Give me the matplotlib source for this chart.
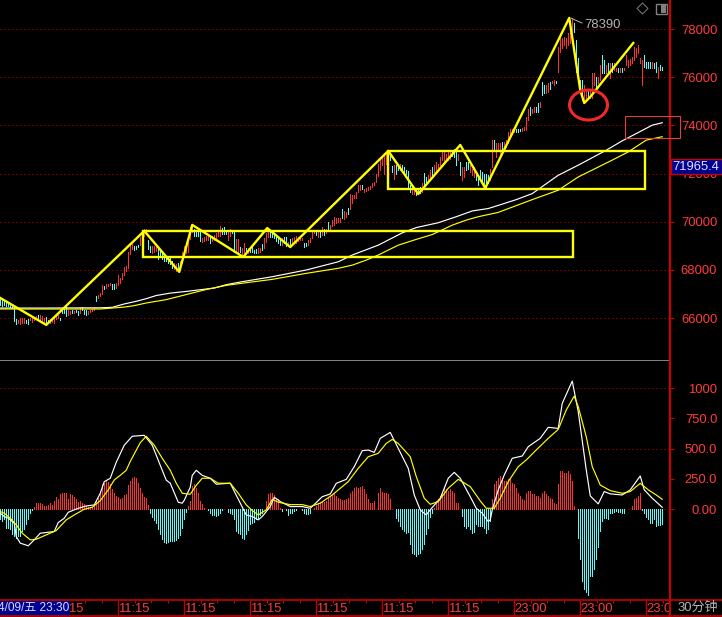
import matplotlib
matplotlib.use('Agg')
import matplotlib.pyplot as plt
from matplotlib.patches import Rectangle, Ellipse, Polygon

plt.rcParams['font.family'] = ['Liberation Sans', 'Noto Sans CJK SC', 'DejaVu Sans']

# candle range, one entry per bar
high_a = [66840,66770,66700,66660,66630,66560,66520,66460,65960,65930,
          65990,66000,66010,65930,65960,65990,66000,66040,66070,66130,
          66130,66070,66000,66030,65930,65960,65960,66040,66100,66130,
          66010,66350,66520,66490,66320,66280,66320,66280,66320,66280,
          66460,66460,66350,66320,66280,66350,66380,66420,66940,66980,
          67050,67360,67330,67400,67400,67470,67400,67430,67470,67780,
          67680,67890,68130,68170,68760,69040,69080,69010,69010,69040,
          69360,69600,69680,69680,69260,69010,69010,68980,68940,68940,
          68840,68730,68660,68560,68520,68480,68380,68310,68240,68310,
          68380,68730,69010,69150,69150,69780,69920,69710,69640,69600,
          69570,69320,69360,69390,69400,69430,69430,69460,69540,69640,
          69820,69740,69780,69640,69600,69710,69640,69600,69290,69290]
low_a = [66560,66520,66560,66520,66520,66460,66410,65900,65760,65790,
         65760,65790,65820,65820,65760,65930,65860,65930,65960,66000,
         65930,65860,65790,65710,65820,65820,65860,65820,65960,65990,
         65930,66210,66210,66100,66140,66170,66210,66210,66240,66140,
         66210,66350,66180,66140,66170,66270,66290,66350,66700,66840,
         66910,67020,67220,67260,67330,67360,67190,67220,67260,67360,
         67470,67610,67780,67960,68100,68660,68870,68840,68870,68940,
         69040,69360,69430,69570,68870,68730,68700,68730,68800,68450,
         68520,68450,68380,68380,68310,68240,68100,68030,67960,68100,
         68240,68310,68590,68700,68730,69290,69570,69430,69400,69400,
         69220,69150,69220,69260,69260,69120,69220,69260,69290,69430,
         69400,69500,69500,69500,69260,69430,69540,68730,68730,68730]
high_b = [68960,68900,69100,68900,68900,68900,68960,68830,68850,68900,
          68900,69070,69310,69520,69590,69590,69520,69450,69380,69380,
          69240,69310,69380,69350,69170,69270,69310,69380,69410,69380,
          69380,69310,69130,69130,69240,69310,69590,69650,69590,69590,
          69650,69790,69720,69720,70000,69860,70070,70180,70140,70140,
          70140,70550,70450,70410,70590,71170,71100,71100,71240,71520,
          71520,71520,71380,71420,71450,71480,71590,71660,72000,72410,
          72690,72690,72830,72900,72830,72760,72300,72340,72340,72410,
          72410,72340,72280,72140,72110,71520,71450,71380,71380,71380,
          71450,71590,72030,71860,71930,72140,72280,72340,72480,72410,
          72690,72900,72900,72830,72900,72900,72940,73040,72900,72830,
          72480,72280,72280,72480,72480,72340,72210,72280,72000,71930]
low_b = [68760,68660,68690,68690,68690,68760,68760,68690,68690,68690,
         68760,68830,68900,69170,69380,69380,69350,69310,69210,69130,
         69030,69030,69100,68990,68990,69030,69100,69130,69100,69210,
         69240,69240,68960,68990,69030,69170,69310,69520,69450,69380,
         69350,69450,69450,69520,69650,69650,69820,69860,69960,70000,
         70000,70140,70120,70210,70340,70550,70760,70970,70970,71240,
         71310,71340,71240,71280,71310,71370,71450,71520,71660,71890,
         72140,72340,72000,72410,72620,72550,72070,71790,72000,72140,
         72140,72070,72070,72000,71420,71240,71170,71140,71100,71170,
         71200,71240,71520,71590,71660,71860,71930,72070,72140,72210,
         72340,72550,72480,72550,72580,72620,72720,72690,72340,72550,
         71930,71750,71860,72140,72210,72070,71930,71860,71720,71520]
high_c = [72140,72070,72000,72000,71930,72210,73390,73390,73250,73250,
          73250,73320,73320,73390,73730,73870,73870,73870,73870,73870,
          73870,73910,73940,74360,74700,74770,74700,74750,74770,74910,
          74980,75810,75670,75670,75740,75810,75850,75880,75850,77270,
          77610,77610,77680,77610,77820,78370,78440,78240,77540,76780,
          75880,75880,75670,75470,75490,75490,76160,76160,76020,76020,
          76500,76920,76710,76500,76570,76570,76570,76570,76370,76370,
          76370,76370,76370,76920,76710,76740,76850,77270,77200,77340,
          76780,76710,76920,76640,76640,76640,76640,76570,76640,76430,
          76500,76430]
low_c = [71720,71590,71380,71450,71590,71720,72280,72970,72700,72970,
         72830,72970,73110,73110,73250,73530,73660,73730,73730,73730,
         73780,73780,73800,73800,74220,74430,74500,74570,74570,74570,
         74770,75260,75330,75330,75400,75530,75740,75670,75740,76230,
         77060,77200,77340,77200,77340,77400,77680,77890,76230,75880,
         75400,75050,75050,75050,75190,75120,75120,75670,75600,75740,
         75880,76160,76160,76160,76230,75950,76230,76300,76270,76230,
         76230,76230,76300,76500,76430,76500,76570,76710,76850,76990,
         76570,75670,76430,76370,76370,76370,76370,76370,76230,75950,
         76300,76300]
# r = rising bar, c = falling bar
candle_dir = ('cccccccccr' 'rrrccrrrrc' 'rrrccrrrrr' 'ccccrrcrcc' 'rcccrrrrcr'
              'rrcrrrccrr' 'rrrrrrrccc' 'rrrrccrrrc' 'cccccccrrc' 'rrrrrrrccc'
              'crrrrcrrrr' 'rcccrrccrr'
              'crrcrccccr' 'rcrrrccccc' 'crccrcrrrr' 'rrccrrrrcr' 'crcrcrrrrr'
              'rcrrcrrrrr' 'rcrrrrrrrr' 'rrrrrccrcc' 'rcccccrrcc' 'crccrrcrrr'
              'rrrrrrcccr' 'crrccrrrcc'
              'cccccrrcrr' 'rcrrrrrrcc' 'crrrrcrrcc' 'rccrrcrrcr' 'rrrrrrrccc'
              'ccrrcrrrcr' 'rccrcrcrrc' 'rcrrrrrrrr' 'rrccccrccr' 'cc')

ma_white_i = [0,22,50,56,62,68,73,78,85,93,100,107,113,120,128,136,153,169,176,189,201,208,219,228,236,244,249,258,266,279,289,303,311,318,326,331]
ma_white = [66420,66420,66430,66450,66590,66700,66810,66940,67040,67110,67180,67250,67390,67500,67610,67720,68000,68340,68620,69030,69540,69760,69960,70210,70450,70550,70680,70920,71170,71930,72350,72970,73360,73660,74010,74110]
ma_yellow_i = [0,50,62,67,73,83,93,103,113,120,136,153,169,176,183,189,199,208,216,226,233,239,249,266,279,289,306,314,323,331]
ma_yellow = [66380,66380,66460,66520,66630,66770,66980,67190,67360,67440,67610,67860,68070,68200,68410,68620,69030,69270,69470,69860,70070,70210,70390,70920,71310,71860,72560,72900,73390,73530]

# hand drawn wave line and boxes on the price panel
wave_i = [0,23,72,89.5,96,121.5,133.5,145,194,209,230,242.5,284.5,290,292,295,316.5]
wave_price = [66840,65720,69620,67920,69870,68540,69740,68950,72940,71150,73190,71400,78460,75470,74930,75180,77420]
box_low = (71.5, 68540, 286.5, 69620)
box_high = (194, 71360, 322.5, 72940)
price_ticks = [66000,68000,70000,72000,74000,76000,78000]

macd_hist = [-83,-96,-83,-151,-151,-165,-206,-220,-234,-220,-220,-179,-165,-124,-83,-33,-6,
             22,55,50,50,44,28,28,33,50,39,69,105,83,124,132,138,132,83,124,116,105,83,61,
             69,50,41,28,22,22,22,33,69,96,151,206,220,234,226,206,171,138,110,105,
             83,96,116,124,198,234,261,267,256,215,179,138,105,96,33,-28,-61,-88,-110,-165,
             -206,-242,-270,-275,-270,-261,-261,-261,-253,-234,-215,-151,-83,-22,28,69,193,206,179,138,
             69,41,14,3,-6,-33,-50,-50,-55,-50,-33,-8,0,0,-22,-28,-39,-83,-179,-193,
             -206,-234,-242,-206,-171,-124,-116,-105,-83,-69,-50,-28,0,69,124,132,132,116,96,83,
             14,-14,0,-8,-50,-33,-28,-14,-6,0,0,-6,-28,-41,-41,-28,0,14,28,55,
             61,61,61,69,96,110,124,132,110,96,83,77,77,88,91,138,151,179,187,179,
             187,193,165,124,83,55,55,69,0,138,179,143,138,132,124,83,0,0,-69,-96,
             -138,-165,-179,-193,-187,-289,-358,-371,-385,-371,-358,-330,-289,-206,-151,-61,-33,14,69,83,
             110,124,193,165,151,165,151,138,55,55,0,-55,-138,-151,-138,-165,-193,-187,-124,-138,
             -138,-138,-151,-193,-165,-96,83,206,234,261,275,261,234,234,248,248,220,206,179,138,
             110,83,77,138,151,151,124,124,110,110,96,138,151,124,110,96,83,55,41,206,
             316,316,303,303,316,289,234,28,0,-234,-413,-591,-660,-688,-710,-550,-550,-495,-413,-316,
             -179,-96,-69,-69,-83,-28,-28,-22,-14,-22,-22,-28,-28,0,0,0,28,83,96,110,
             138,-8,-33,-61,-77,-116,-116,-83,-138,-132,-132,-124]

dif_i = [0,2,4,7,8,10,14,17,20,27,29,32,34,39,43,47,50,52,55,58,62,66,72,76,80,83,85,89,91,92,95,96,98,101,105,108,115,118,
         123,126,129,131,135,137,140,145,151,155,158,161,165,168,173,177,181,184,187,190,195,199,204,207,210,213,215,220,224,227,230,235,238,
         241,244,245,246,249,252,256,261,264,270,274,279,281,286,289,293,295,299,302,305,311,315,320,322,326,331]
dif = [-33,-60,-74,-115,-225,-280,-302,-253,-198,-184,-110,-74,-25,8,27,36,132,228,256,388,529,603,611,529,363,240,215,58,50,74,182,280,322,280,256,207,215,116,
       -47,-60,-88,-60,22,99,63,22,22,8,55,104,126,214,247,352,484,489,470,586,635,503,338,118,-5,-47,-5,91,256,305,256,104,8,
       -33,-102,-88,-5,160,283,421,440,517,586,677,668,875,1059,806,325,110,44,146,127,118,160,275,160,91,16]
dea_i = [0,2,5,8,11,15,18,23,28,33,37,42,46,50,54,57,60,63,65,70,73,77,81,85,88,91,95,98,101,105,109,115,119,
         123,126,129,133,136,139,145,151,155,160,166,174,179,184,189,193,196,199,205,208,212,215,219,224,229,235,
         240,243,247,250,254,259,263,268,274,279,283,287,289,293,296,300,305,311,315,320,324,328,331]
dea = [-19,-33,-74,-129,-198,-253,-248,-212,-176,-88,-47,0,16,71,160,242,280,322,395,550,603,529,421,322,215,132,124,198,256,256,215,215,132,
       36,-11,-47,-5,82,58,38,38,22,50,118,228,338,434,462,544,577,544,434,270,91,41,63,173,247,187,
       69,8,8,91,228,352,407,490,586,660,820,935,847,600,352,200,154,132,146,214,160,118,82]
macd_ticks = [0,250,500,750,1000]
macd_labels = ['0.00','250.0','500.0','750.0','1000']

time_ticks = [26,59,92,125,158,191,224,257,290,323]
time_labels = ['11:15','11:15','11:15','11:15','11:15','11:15','11:15','23:00','23:00','23:00']

UP = '#ff3232'
DOWN = '#54ffff'
AXIS = '#c80000'
GRID = '#c80000'
LABEL = '#ff3c3c'
DOTS = (0, (1, 3))
XLIM = (-0.125, 334.875)  # 2 px per bar, each bar lands on one pixel column

fig = plt.figure(figsize=(7.22, 6.17), dpi=100, facecolor='black')
W, H = 722.0, 617.0
ax1 = fig.add_axes([0, (H-360)/H, 670/W, 360/H], facecolor='black')
ax2 = fig.add_axes([0, (H-600)/H, 670/W, 239/H], facecolor='black')

# price panel
highs = high_a + high_b + high_c
lows = low_a + low_b + low_c
xs = list(range(len(highs)))
cols = [UP if d == 'r' else DOWN for d in candle_dir[:len(highs)]]
for p in price_ticks:
    ax1.axhline(p, color=GRID, lw=0.72, ls=DOTS, zorder=1)
ax1.vlines(xs, lows, highs, colors=cols, lw=0.7, antialiased=False, zorder=2)
ax1.plot(ma_white_i, ma_white, color='white', lw=0.85, zorder=3)
ax1.plot(ma_yellow_i, ma_yellow, color='#ffff00', lw=0.85, zorder=3)
for b in (box_low, box_high):
    ax1.add_patch(Rectangle((b[0], b[1]), b[2]-b[0], b[3]-b[1], fill=False, ec='#ffff00', lw=1.7, zorder=4))
ax1.plot(wave_i, wave_price, color='#ffff00', lw=1.7, zorder=5)
ax1.set_xticks([])
ax1.yaxis.tick_right()
ax1.set_yticks(price_ticks)
ax1.set_xlim(*XLIM)
ax1.set_ylim(64264, 79204)
ax1.tick_params(axis='y', colors=LABEL, length=3, width=0.8, color=AXIS, labelsize=9.4, pad=31)
for l in ax1.get_yticklabels():
    l.set_ha('right')

# macd panel
bar_x = list(range(len(macd_hist)))
ax2.axhline(0, color=GRID, lw=0.72, ls=DOTS, zorder=1)
ax2.axhline(500, color=GRID, lw=0.72, ls=DOTS, zorder=1)
ax2.axhline(1000, color=GRID, lw=0.72, ls=DOTS, zorder=1)
ax2.vlines(bar_x, 0, macd_hist, colors=[UP if v > 0 else DOWN for v in macd_hist], lw=0.7, antialiased=False, zorder=2)
ax2.plot(dif_i, dif, color='white', lw=0.85, zorder=3)
ax2.plot(dea_i, dea, color='#ffff00', lw=0.85, zorder=4)
ax2.yaxis.tick_right()
ax2.set_yticks(macd_ticks, macd_labels)
ax2.tick_params(axis='y', colors=LABEL, length=3, width=0.8, color=AXIS, labelsize=9.4, pad=31)
for l in ax2.get_yticklabels():
    l.set_ha('right')
ax2.set_xticks(time_ticks, time_labels)
ax2.set_xticks([t + k*8.25 for t in [-7] + time_ticks for k in (1, 2, 3)], minor=True)
ax2.set_xlim(*XLIM)
ax2.set_ylim(-750, 1225)
ax2.tick_params(axis='x', which='major', colors=LABEL, color=AXIS, length=10.8, width=1.0, labelsize=9.4, pad=-9)
ax2.tick_params(axis='x', which='minor', color=AXIS, length=2.2, width=0.8)
for l in ax2.get_xticklabels():
    l.set_ha('left')

for a in (ax1, ax2):
    for s in a.spines.values():
        s.set_visible(False)

# frame, boxes and notes are drawn in pixel coordinates on top
top = fig.add_axes([0, 0, 1, 1], facecolor='none')
top.set_xlim(0, W)
top.set_ylim(H, 0)
top.axis('off')
top.plot([0, 670], [360, 360], color='#808080', lw=0.72)
top.plot([670, 670], [0, 617], color=AXIS, lw=1.6)
top.plot([0, 722], [600, 600], color=AXIS, lw=1.2)
top.plot([0, 722], [615.5, 615.5], color=AXIS, lw=1.2)
top.add_patch(Rectangle((671, 601), 51, 14, fc='black', ec='none', zorder=3))
top.text(677, 607.5, '30分钟', color='#b4b4b4', fontsize=9.4, va='center', zorder=4)
top.add_patch(Rectangle((0, 601), 70, 14, fc='#000090', ec='none', zorder=3))
top.text(69.5, 608, '4/09/五 23:30', color='#d8d8ff', fontsize=8.6, ha='right', va='center', zorder=4)
top.add_patch(Rectangle((671, 159), 51, 15, fc='#000090', ec=AXIS, lw=1.0, zorder=3))
top.text(695.5, 166.5, '71965.4', color='#e0e0ff', fontsize=9.4, ha='center', va='center', zorder=4)
top.add_patch(Ellipse((588.5, 105), 38, 30, fill=False, ec='#f02828', lw=2.2, zorder=6))
top.add_patch(Rectangle((624.5, 115.5), 55, 22, fill=False, ec='#e04040', lw=0.8, zorder=6))
top.plot([571, 575, 582], [18, 20, 23], color='#b4b4b4', lw=0.7, zorder=6)
top.text(584, 25, '78390', color='#b4b4b4', fontsize=9.4, va='center', zorder=6)
top.add_patch(Polygon([(642.5, 3), (648, 8.5), (642.5, 14), (637, 8.5)], fill=False, ec='#707070', lw=0.8))
top.add_patch(Rectangle((655.5, 3.5), 11, 10, fill=False, ec='#808080', lw=1.0))
top.add_patch(Rectangle((661, 4), 5, 9, fc='#808080', ec='none'))

fig.savefig('out.png', dpi=100, facecolor='black')
